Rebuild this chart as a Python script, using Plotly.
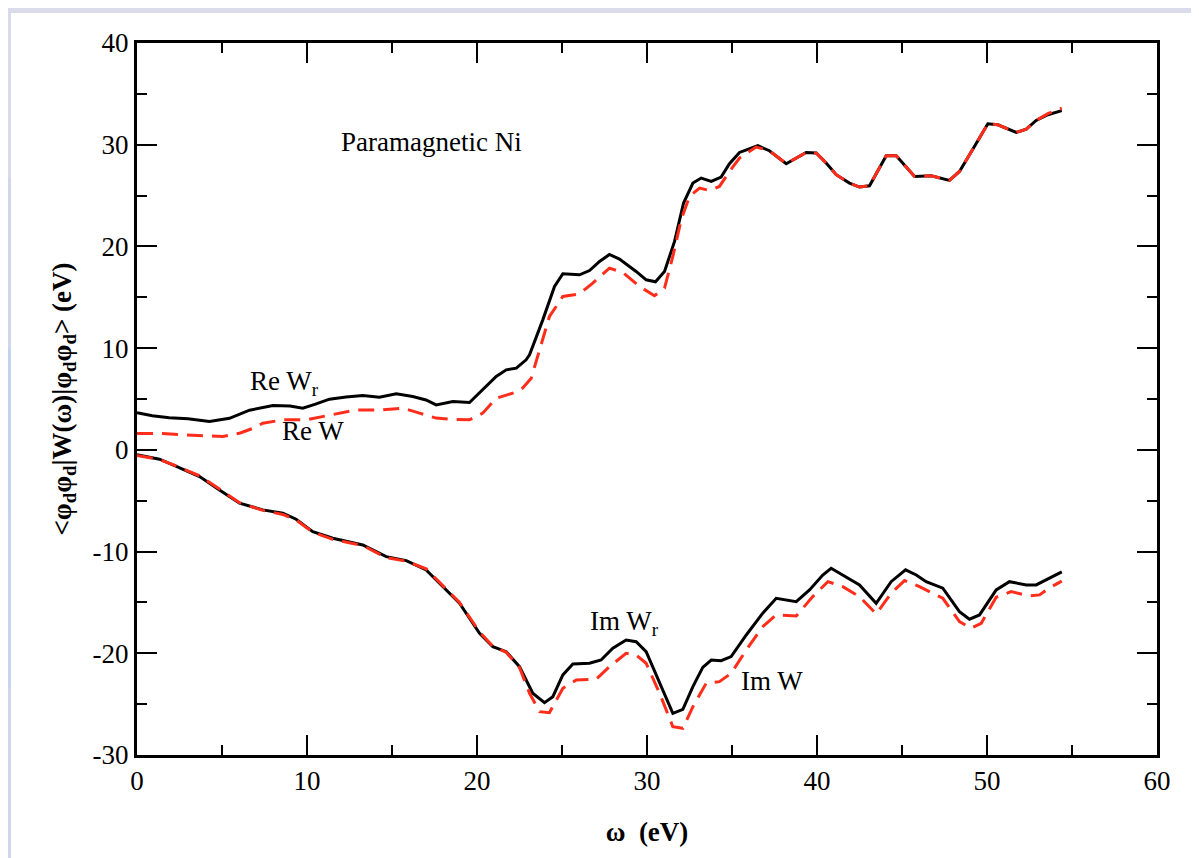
import plotly.graph_objects as go

# ---------------- data ----------------
re_wr_x = [0, 0.9, 1.9, 3.0, 4.26, 5.44, 6.62, 8.0, 9.0, 9.75, 10.5, 11.32, 12.3, 13.28, 14.26,
           15.25, 16.22, 17.0, 17.6, 18.58, 19.56, 20.34, 21.13, 21.72, 22.31, 22.89, 23.09,
           23.87, 24.56, 25.05, 26.03, 26.62, 27.21, 27.79, 28.38, 29.36, 29.95, 30.5, 31.03,
           31.62, 32.15, 32.7, 33.19, 33.78, 34.36, 34.85, 35.44, 36.52, 37.2, 38.19, 39.36,
           39.95, 40.54, 41.13, 41.91, 42.5, 43.09, 44.07, 44.66, 45.74, 46.72, 47.79, 48.38,
           49.26, 50.05, 50.64, 51.72, 52.31, 52.89, 53.58, 54.4]
re_wr_y = [3.65, 3.35, 3.15, 3.05, 2.8, 3.1, 3.9, 4.35, 4.3, 4.1, 4.5, 4.98, 5.2, 5.34, 5.18,
           5.51, 5.24, 4.9, 4.42, 4.75, 4.65, 5.9, 7.21, 7.87, 8.03, 8.85, 9.34,
           12.78, 16.06, 17.31, 17.21, 17.63, 18.52, 19.21, 18.75, 17.54, 16.72, 16.52, 17.54,
           20.49, 24.26, 26.23, 26.72, 26.39, 26.82, 28.13, 29.24, 29.9, 29.41, 28.13, 29.24,
           29.18, 28.2, 27.05, 26.23, 25.84, 25.96, 28.92, 28.92, 26.88, 26.95, 26.49, 27.37,
           29.83, 32.06, 31.96, 31.21, 31.54, 32.39, 32.95, 33.35]

re_w_x = [0, 1.5, 2.5, 4.0, 5.05, 6.03, 6.8, 7.4, 8.58, 9.95, 11.32, 12.89, 14.46, 15.64, 16.62,
          17.6, 18.6, 19.56, 20.34, 21.13, 22.1, 22.7, 23.19, 23.68, 24.26, 25.05, 26.03, 26.81,
          27.79, 28.58, 29.56, 30.44, 31.03, 31.52, 32.01, 32.5, 33.09, 33.68, 34.26, 34.85,
          35.44, 36.42, 37.2, 38.19, 39.36, 39.95, 40.54, 41.13, 41.91, 42.5, 43.09, 44.07,
          44.66, 45.74, 46.72, 47.79, 48.38, 49.26, 50.05, 50.64, 51.72, 52.31, 52.89, 53.58, 54.4]
re_w_y = [1.6, 1.6, 1.5, 1.42, 1.31, 1.64, 2.1, 2.62, 2.95, 2.95, 3.44, 3.93, 3.93, 4.1, 3.61,
          3.12, 3.0, 2.95, 3.61, 5.08, 5.57, 6.1, 7.05, 9.83, 13.11, 15.08, 15.34, 16.39,
          17.87, 17.44, 16.06, 15.15, 15.9, 19.01, 22.62, 24.91, 25.74, 25.5, 25.9, 27.37,
          28.69, 29.77, 29.41, 28.13, 29.24, 29.18, 28.2, 27.05, 26.23, 25.84, 25.96, 28.92,
          28.92, 26.88, 26.95, 26.49, 27.37, 29.83, 32.06, 31.96, 31.21, 31.54, 32.39, 33.05, 33.6]

im_wr_x = [0, 1.32, 2.11, 3.68, 4.85, 6.03, 7.4, 8.58, 9.36, 10.34, 11.52, 13.28, 14.66, 15.84,
           17.01, 17.99, 18.97, 20.15, 20.93, 21.72, 22.5, 23.28, 23.97, 24.46, 25.05, 25.64,
           26.62, 27.3, 27.99, 28.77, 29.36, 29.95, 30.74, 31.52, 32.11, 32.7, 33.28, 33.78,
           34.36, 34.95, 35.84, 36.81, 37.6, 38.78, 39.56, 40.34, 40.83, 41.52, 42.5, 43.48,
           44.36, 45.21, 45.84, 46.42, 47.4, 48.38, 48.97, 49.56, 50.54, 51.32, 52.31, 52.89,
           53.64, 54.4]
im_wr_y = [-0.49, -0.92, -1.48, -2.63, -3.94, -5.24, -5.9, -6.23, -6.82, -8.04, -8.69, -9.35,
           -10.5, -10.89, -11.81, -13.45, -15.08, -18.03, -19.35, -19.84, -21.32, -23.93, -24.86,
           -24.27, -22.13, -21.05, -20.98, -20.66, -19.51, -18.69, -18.86, -19.84, -22.95, -25.9,
           -25.51, -23.28, -21.38, -20.66, -20.73, -20.33, -18.2, -16.06, -14.59, -14.92, -13.77,
           -12.3, -11.64, -12.3, -13.28, -15.08, -12.96, -11.8, -12.3, -12.96, -13.6, -15.9,
           -16.65, -16.23, -13.77, -12.96, -13.28, -13.28, -12.62, -12.0]

im_w_x = [0, 1.32, 2.11, 3.68, 4.85, 6.03, 7.4, 8.58, 9.36, 10.34, 11.52, 13.28, 14.66, 15.84,
          17.01, 17.99, 18.97, 20.15, 20.93, 21.72, 22.5, 23.09, 23.68, 24.26, 25.05, 25.84,
          27.01, 27.79, 28.77, 29.36, 29.95, 30.74, 31.52, 32.11, 32.7, 33.48, 34.26, 34.95,
          35.84, 36.81, 37.6, 38.78, 39.75, 40.64, 41.52, 42.5, 43.48, 44.36, 45.15, 46.03,
          47.4, 48.38, 49.07, 49.66, 50.54, 51.42, 52.5, 53.09, 53.64, 54.4]
im_w_y = [-0.55, -0.95, -1.45, -2.55, -3.85, -5.2, -5.95, -6.35, -6.9, -8.1, -8.8, -9.4,
          -10.6, -10.95, -11.7, -13.3, -15.0, -17.9, -19.3, -19.9, -21.4, -23.93, -25.74,
          -25.84, -23.44, -22.62, -22.56, -21.32, -20.0, -20.17, -20.98, -23.93, -27.22, -27.38,
          -25.25, -22.95, -22.79, -21.97, -19.67, -17.38, -16.23, -16.33, -14.43, -12.96,
          -13.45, -14.43, -16.13, -14.1, -12.85, -13.45, -14.59, -16.89, -17.54, -17.05,
          -14.49, -13.94, -14.36, -14.26, -13.6, -12.9]

x_ticks = [0, 10, 20, 30, 40, 50, 60]
y_ticks = [-30, -20, -10, 0, 10, 20, 30, 40]

# ---------------- figure ----------------
FONT = "Liberation Serif"
BLACK = "#000000"
RED = "#ff2d1a"

fig = go.Figure()
fig.add_trace(go.Scatter(x=re_wr_x, y=re_wr_y, mode="lines", name="Re W_r",
                         line=dict(color=BLACK, width=3)))
fig.add_trace(go.Scatter(x=im_wr_x, y=im_wr_y, mode="lines", name="Im W_r",
                         line=dict(color=BLACK, width=3)))
fig.add_trace(go.Scatter(x=re_w_x, y=re_w_y, mode="lines", name="Re W",
                         line=dict(color=RED, width=3, dash="16px,9px")))
fig.add_trace(go.Scatter(x=im_w_x, y=im_w_y, mode="lines", name="Im W",
                         line=dict(color=RED, width=3, dash="16px,9px")))

# page is drawn with an 8px body margin: plot area spans px 129..1149 x 35..747 in the figure
PW, PH = 1020.0, 712.0
L, T = 129.0, 35.0
FW, FH = 1191, 850


def px2paper_x(px):
    return (px - 8 - L) / PW


def px2paper_y(py):
    return 1 - (py - 8 - T) / PH


shapes = [
    dict(type="rect", xref="paper", yref="paper", x0=px2paper_x(8), x1=px2paper_x(1199),
         y0=px2paper_y(13), y1=px2paper_y(8), fillcolor="#dcdbeb", line_width=0, layer="below"),
]
strip_cols = ["#d9d9ea", "#cfd6ee", "#c6d3ee", "#c8d4ee", "#ced7ef"]
n = len(strip_cols)
for i, c in enumerate(strip_cols):
    y0 = px2paper_y(8 + 850 * (i + 1) / n)
    y1 = px2paper_y(8 + 850 * i / n)
    shapes.append(dict(type="rect", xref="paper", yref="paper", x0=px2paper_x(8),
                       x1=px2paper_x(11), y0=y0, y1=y1, fillcolor=c, line_width=0,
                       layer="below"))

txt = dict(family=FONT, size=27, color=BLACK)
annotations = [
    dict(x=17.3, y=30.3, text="Paramagnetic Ni", showarrow=False, font=txt,
         xanchor="center", yanchor="middle"),
    dict(x=6.5, y=6.6, text="Re W<sub>r</sub>", showarrow=False, font=txt,
         xanchor="left", yanchor="middle"),
    dict(x=8.4, y=1.9, text="Re W", showarrow=False, font=txt,
         xanchor="left", yanchor="middle"),
    dict(x=26.5, y=-17.0, text="Im W<sub>r</sub>", showarrow=False, font=txt,
         xanchor="left", yanchor="middle"),
    dict(x=35.4, y=-22.7, text="Im W", showarrow=False, font=txt,
         xanchor="left", yanchor="middle"),
]

axis_common = dict(
    showline=True, linecolor=BLACK, linewidth=3, mirror="ticks",
    ticks="inside", ticklen=20, tickwidth=2, tickcolor=BLACK,
    showgrid=False, zeroline=False, automargin=False,
    minor=dict(ticks="inside", ticklen=10, tickwidth=2, tickcolor=BLACK, showgrid=False),
)

fig.update_layout(
    width=FW, height=FH,
    margin=dict(l=L, r=FW - L - PW, t=T, b=FH - T - PH, autoexpand=False),
    paper_bgcolor="white", plot_bgcolor="white",
    font=dict(family=FONT, size=27, color=BLACK),
    showlegend=False,
    shapes=shapes,
    annotations=annotations,
    xaxis=dict(range=[0, 60], tickvals=x_ticks, ticktext=[str(v) for v in x_ticks],
               minor_dtick=5, minor_tick0=0,
               tickfont=dict(family="serif", size=27, color=BLACK),
               title=dict(text="ω  (eV)",
                          font=dict(family=FONT, size=27, color=BLACK, weight="bold"),
                          standoff=27),
               **axis_common),
    yaxis=dict(range=[-30, 40], tickvals=y_ticks, ticktext=[str(v) for v in y_ticks],
               minor_dtick=5, minor_tick0=0,
               tickfont=dict(family=FONT, size=27, color=BLACK, weight="normal"),
               title=dict(text="<b>&lt;φ<sub>d</sub>φ<sub>d</sub>|W(ω)|φ<sub>d</sub>φ<sub>d</sub>&gt; (eV)</b>",
                          font=dict(family="serif", size=27, color=BLACK), standoff=14),
               **axis_common),
)

fig.write_html("out.html")
